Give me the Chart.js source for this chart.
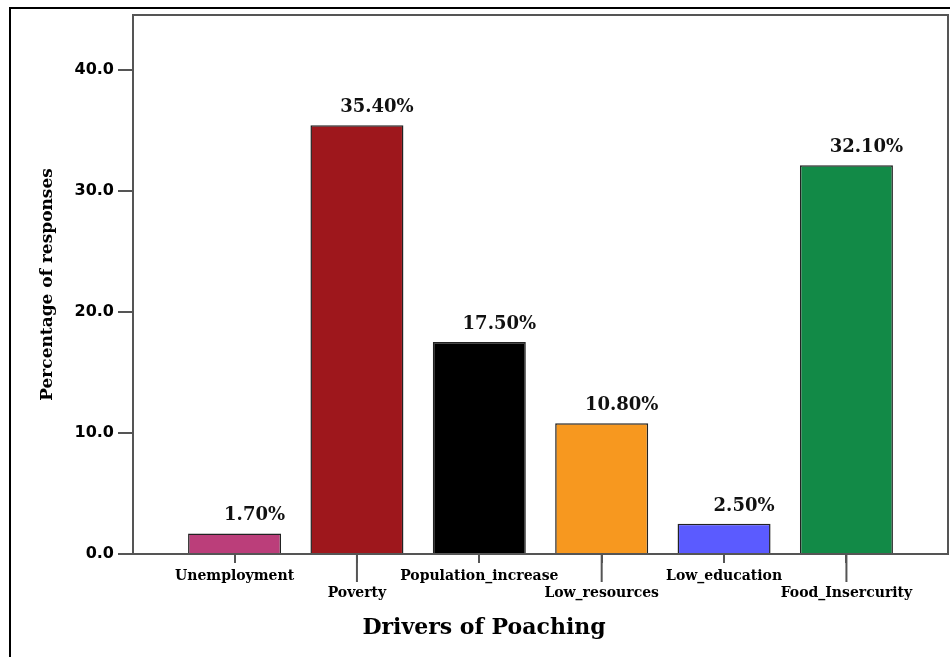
<!DOCTYPE html>
<html>
<head>
<meta charset="utf-8">
<script src="https://cdn.jsdelivr.net/npm/chart.js@4/dist/chart.umd.min.js"></script>
<style>
  html, body
  {
    margin: 0;
    background: #ffffff;
  }
  #wrap
  {
    width: 950px;
    height: 657px;
  }
</style>
</head>
<body>
<div id="wrap"><canvas id="chart"></canvas></div>
<script>
const categories = ["Unemployment", "Poverty", "Population_increase", "Low_resources", "Low_education", "Food_Insercurity"];
const percentages = [1.7, 35.4, 17.5, 10.8, 2.5, 32.1];
const valueLabels = ["1.70%", "35.40%", "17.50%", "10.80%", "2.50%", "32.10%"];
const barColors = ["#bb3e7a", "#9e171c", "#000000", "#f7981f", "#5b5bff", "#128a47"];
const yTicks = [0, 10, 20, 30, 40];

const axisGrey = "#555555";

// outer frame and the plot box on top / right
const framePlugin = {
  id: "frame",
  afterDraw(chart)
  {
    const {ctx, chartArea} = chart;
    ctx.save();
    ctx.strokeStyle = axisGrey;
    ctx.lineWidth = 2;
    ctx.beginPath();
    ctx.moveTo(chartArea.left, chartArea.top);
    ctx.lineTo(chartArea.right, chartArea.top);
    ctx.lineTo(chartArea.right, chartArea.bottom);
    ctx.stroke();

    ctx.strokeStyle = "#000000";
    ctx.beginPath();
    ctx.moveTo(10, chart.height);
    ctx.lineTo(10, 8);
    ctx.lineTo(chart.width, 8);
    ctx.stroke();

    // staggered labels get a long tick
    const x = chart.scales.x;
    ctx.strokeStyle = axisGrey;
    ctx.lineWidth = 2;
    categories.forEach((c, i) =>
    {
      if (i % 2 === 1)
      {
        const px = x.getPixelForValue(i);
        ctx.beginPath();
        ctx.moveTo(px, chartArea.bottom);
        ctx.lineTo(px, chartArea.bottom + 28);
        ctx.stroke();
      }
    });
    ctx.restore();
  }
};

const valueLabelPlugin = {
  id: "valueLabels",
  afterDatasetsDraw(chart)
  {
    const {ctx} = chart;
    const meta = chart.getDatasetMeta(0);
    ctx.save();
    ctx.font = "bold 18px 'DejaVu Serif'";
    ctx.fillStyle = "#111111";
    ctx.textAlign = "center";
    ctx.textBaseline = "alphabetic";
    meta.data.forEach((bar, i) =>
    {
      ctx.fillText(valueLabels[i], bar.x + 20, bar.y - 13);
    });
    ctx.restore();
  }
};

new Chart(document.getElementById("chart"), {
  type: "bar",
  data: {
    datasets: [{
      data: percentages.map((v, i) => ({x: i, y: v})),
      backgroundColor: barColors,
      borderColor: "#222222",
      borderWidth: 1.5,
      barPercentage: 0.76,
      categoryPercentage: 1,
    }],
  },
  options: {
    responsive: true,
    maintainAspectRatio: false,
    animation: false,
    layout: {
      padding: {left: 20, right: 2, top: 15, bottom: 0},
    },
    plugins: {
      legend: {display: false},
      tooltip: {enabled: false},
      title: {
        display: true,
        position: "bottom",
        text: "Drivers of Poaching",
        color: "#000000",
        font: {family: "'DejaVu Serif'", size: 22, weight: "bold"},
        padding: {top: 4, bottom: 16},
      },
    },
    scales: {
      x: {
        type: "linear",
        offset: false,
        min: -0.83,
        max: 5.83,
        afterFit(scale)
        {
          scale.height = 56.6;
        },
        afterBuildTicks(scale)
        {
          scale.ticks = categories.map((c, i) => ({value: i}));
        },
        grid: {
          offset: false,
          drawOnChartArea: false,
          drawTicks: true,
          tickLength: 9,
          color: axisGrey,
          lineWidth: 2,
        },
        border: {display: true, color: axisGrey, width: 2},
        ticks: {
          autoSkip: false,
          maxRotation: 0,
          minRotation: 0,
          padding: 5,
          color: "#000000",
          font: {family: "'DejaVu Serif'", size: 14, weight: "bold"},
          callback(value)
          {
            const i = Math.round(value);
            return i % 2 === 1 ? ["", categories[i]] : categories[i];
          },
        },
      },
      y: {
        min: 0,
        max: 44.5,
        afterFit(scale)
        {
          scale.width = 113;
        },
        afterBuildTicks(scale)
        {
          scale.ticks = yTicks.map(v => ({value: v}));
        },
        grid: {
          drawOnChartArea: false,
          drawTicks: true,
          tickLength: 15,
          color: axisGrey,
          lineWidth: 2,
        },
        border: {display: true, color: axisGrey, width: 2},
        ticks: {
          padding: 4,
          color: "#000000",
          font: {family: "'DejaVu Sans'", size: 16, weight: "bold"},
          callback(value)
          {
            return value.toFixed(1);
          },
        },
        title: {
          display: true,
          text: "Percentage of responses",
          color: "#000000",
          font: {family: "'DejaVu Serif'", size: 17, weight: "bold"},
          padding: {top: 17, bottom: 0},
        },
      },
    },
  },
  plugins: [framePlugin, valueLabelPlugin],
});
</script>
</body>
</html>
